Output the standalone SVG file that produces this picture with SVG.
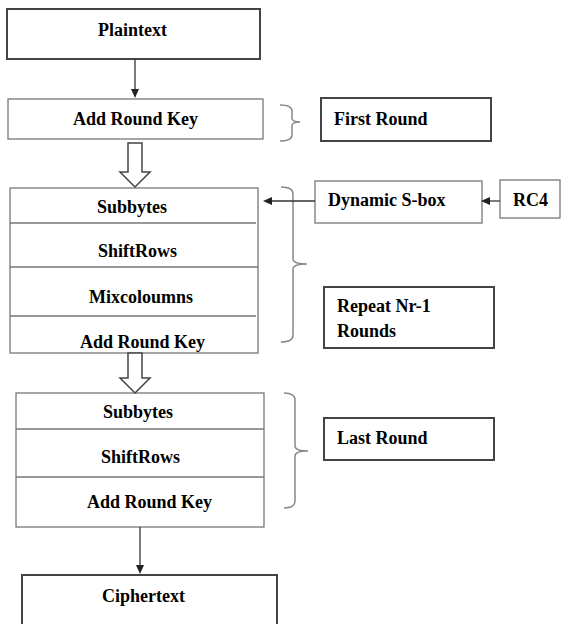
<svg xmlns="http://www.w3.org/2000/svg" width="561" height="624" viewBox="0 0 561 624">
<style>
.thick{fill:#fff;stroke:#444;stroke-width:2}
.thin{fill:#fff;stroke:#777;stroke-width:1.3}
.div{stroke:#777;stroke-width:1.3;fill:none}
.brace{fill:none;stroke:#888;stroke-width:1.5}
.conn{stroke:#333;stroke-width:1.3;fill:none}
.head{fill:#222;stroke:none}
.hollow{fill:#fff;stroke:#444;stroke-width:1.5}
</style>
<rect width="561" height="624" fill="#fff"/>
<g id="plaintext"><rect class="thick" x="7" y="9" width="253" height="50"/><text x="98" y="36" font-family="Liberation Serif" font-weight="bold" font-size="18">Plaintext</text></g>
<g id="addroundkey1"><rect class="thin" x="8" y="99" width="255" height="40"/><text x="73" y="125" font-family="Liberation Serif" font-weight="bold" font-size="18">Add Round Key</text></g>
<g id="firstround"><rect class="thick" x="321" y="98" width="170" height="43"/><text x="334" y="125" font-family="Liberation Serif" font-weight="bold" font-size="18">First Round</text></g>
<g id="round"><rect class="thin" x="10" y="188" width="248" height="165"/>
<line class="div" x1="10" y1="223" x2="256" y2="223"/><line class="div" x1="10" y1="267" x2="258" y2="267"/><line class="div" x1="10" y1="316" x2="256" y2="316"/>
<text x="97" y="213" font-family="Liberation Serif" font-weight="bold" font-size="18">Subbytes</text>
<text x="98" y="257" font-family="Liberation Serif" font-weight="bold" font-size="18">ShiftRows</text>
<text x="89" y="303" font-family="Liberation Serif" font-weight="bold" font-size="18">Mixcoloumns</text>
<text x="80" y="348" font-family="Liberation Serif" font-weight="bold" font-size="18">Add Round Key</text></g>
<g id="sbox"><rect class="thin" x="315" y="181" width="167" height="42"/><text x="328" y="206" font-family="Liberation Serif" font-weight="bold" font-size="18">Dynamic S-box</text></g>
<g id="rc4"><rect class="thin" x="500" y="180" width="60" height="38"/><text x="513" y="206" font-family="Liberation Serif" font-weight="bold" font-size="18">RC4</text></g>
<g id="repeat"><rect class="thick" x="324" y="287" width="170" height="61"/><text x="337" y="312" font-family="Liberation Serif" font-weight="bold" font-size="18">Repeat Nr-1</text><text x="337" y="337" font-family="Liberation Serif" font-weight="bold" font-size="18">Rounds</text></g>
<g id="lastbox"><rect class="thin" x="16" y="393" width="248" height="134"/>
<line class="div" x1="16" y1="429" x2="264" y2="429"/><line class="div" x1="16" y1="477" x2="264" y2="477"/>
<text x="103" y="418" font-family="Liberation Serif" font-weight="bold" font-size="18">Subbytes</text>
<text x="101" y="463" font-family="Liberation Serif" font-weight="bold" font-size="18">ShiftRows</text>
<text x="87" y="508" font-family="Liberation Serif" font-weight="bold" font-size="18">Add Round Key</text></g>
<g id="lastround"><rect class="thick" x="324" y="418" width="170" height="42"/><text x="337" y="444" font-family="Liberation Serif" font-weight="bold" font-size="18">Last Round</text></g>
<g id="ciphertext"><rect class="thick" x="22" y="575" width="255" height="60"/><text x="102" y="602" font-family="Liberation Serif" font-weight="bold" font-size="18">Ciphertext</text></g>
<g id="braces">
<path class="brace" d="M280,105 Q292,105 292,111 L292,118 Q292,122 300,122 Q292,122 292,126 L292,135 Q292,141 280,141"/>
<path class="brace" d="M281,187 Q293,187 293,194 L293,259 Q293,264 307,264 Q293,264 293,269 L293,335 Q293,342 281,342"/>
<path class="brace" d="M284,393 Q295,393 295,400 L295,446 Q295,451 308,451 Q295,451 295,456 L295,501 Q295,508 284,508"/>
</g>
<g id="connectors">
<line class="conn" x1="135" y1="59" x2="135" y2="90"/><path class="head" d="M131,89 L139,89 L135,98 Z"/>
<line class="conn" x1="315" y1="201" x2="271" y2="201"/><path class="head" d="M272,197 L272,205 L263,201 Z"/>
<line class="conn" x1="500" y1="201" x2="489" y2="201"/><path class="head" d="M490,197 L490,205 L481,201 Z"/>
<line class="conn" x1="140" y1="527" x2="140" y2="566"/><path class="head" d="M136,565 L144,565 L140,574 Z"/>
<path class="hollow" d="M128,143 L142,143 L142,172 L150,172 L135,187 L120,172 L128,172 Z"/>
<path class="hollow" d="M128,353 L142,353 L142,378 L150,378 L135,393 L120,378 L128,378 Z"/>
</g>
</svg>
